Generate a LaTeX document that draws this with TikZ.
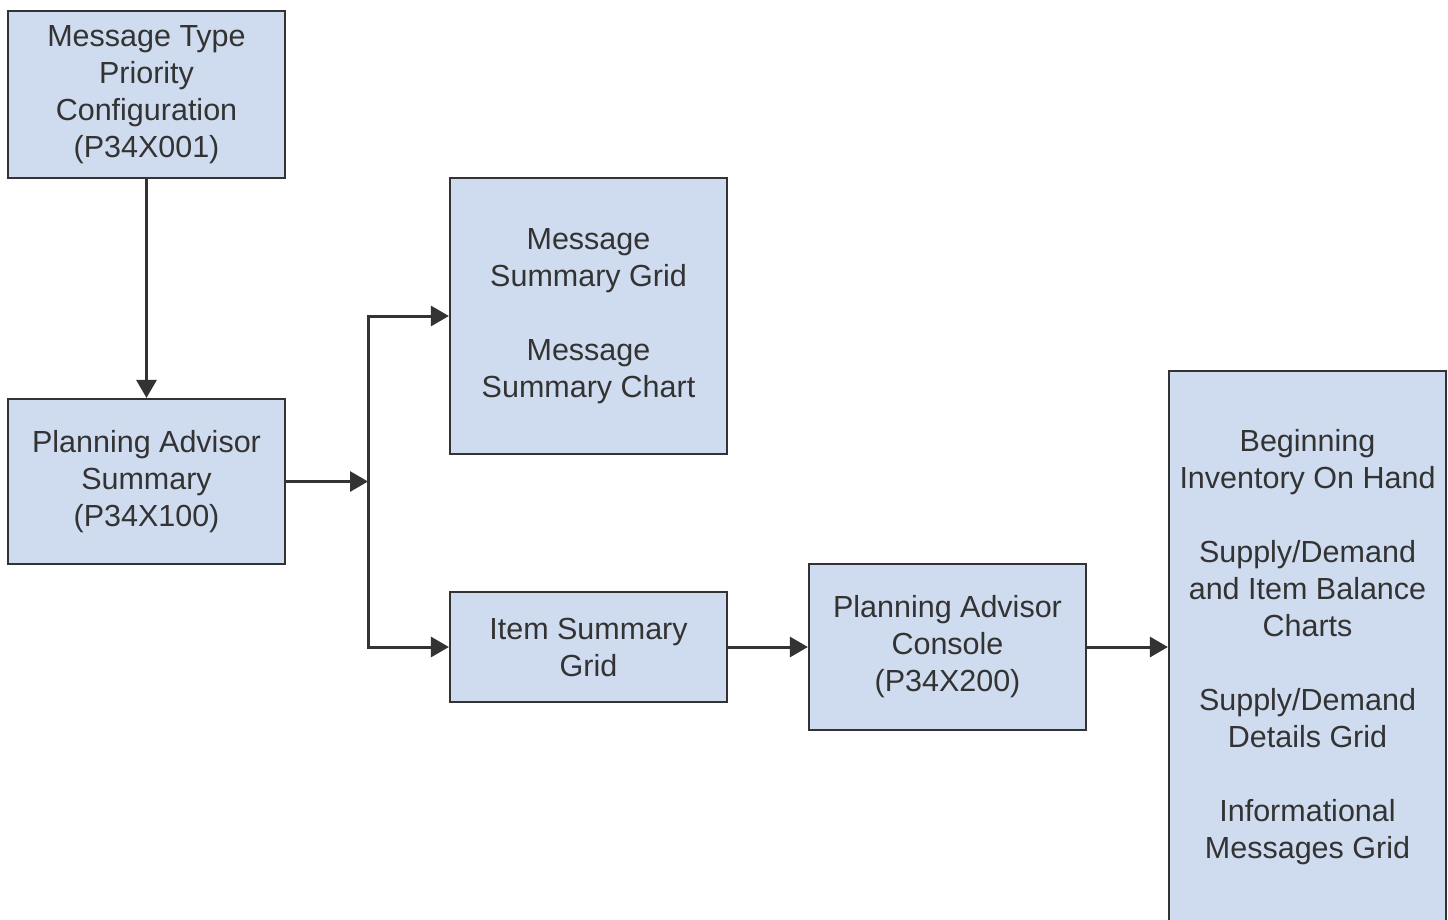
\documentclass[tikz,border=0pt]{standalone}
\usepackage{fontspec}
\setmainfont{Liberation Sans}
\usetikzlibrary{arrows.meta}
\definecolor{boxfill}{HTML}{CFDBEE}
\definecolor{ink}{HTML}{333333}
\tikzset{
  box/.style={draw=ink, line width=2.2pt, fill=boxfill, text=ink, align=center,
    minimum width=277pt, inner sep=0pt, font=\fontsize{30.5}{37}\selectfont},
  conn/.style={draw=ink, line width=3pt, -{Triangle[length=18pt,width=20pt]}},
  plain/.style={draw=ink, line width=3pt}
}
\begin{document}
\begin{tikzpicture}[x=1pt,y=-1pt]
\useasboundingbox (0,0) rectangle (1448,919);
\clip (0,0) rectangle (1448,919);
\fill[white] (0,0) rectangle (1448,919);
\node[box, minimum height=167pt] (mtp) at (146.5,94.5) {Message Type\\Priority\\Configuration\\(P34X001)};
\node[box, minimum height=165pt] (pas) at (146.5,481.5) {Planning Advisor\\Summary\\(P34X100)};
\node[box, minimum height=276pt] (msg) at (588.5,316) {Message\\Summary Grid\\[37pt]Message\\Summary Chart};
\node[box, minimum height=110pt] (item) at (588.5,647) {Item Summary\\Grid};
\node[box, minimum height=166pt] (pac) at (947.5,647) {Planning Advisor\\Console\\(P34X200)};
\node[box, minimum height=556pt] (rbox) at (1307.5,649) {};
\node[text=ink, align=center, font=\fontsize{30.5}{37}\selectfont] (rtext) at (1307.5,647.5) {Beginning\\Inventory On Hand\\[37pt]Supply/Demand\\and Item Balance\\Charts\\[37pt]Supply/Demand\\Details Grid\\[37pt]Informational\\Messages Grid};
\coordinate (j) at (368,481.5);
\draw[conn] (mtp) -- (pas);
\draw[conn] (pas.east) -- (j);
\draw[conn] (j) |- (msg.west);
\draw[conn] (j) |- (item.west);
\draw[conn] (item) -- (pac);
\draw[conn] (pac.east) -- (pac.east -| rbox.west);
\end{tikzpicture}
\end{document}
